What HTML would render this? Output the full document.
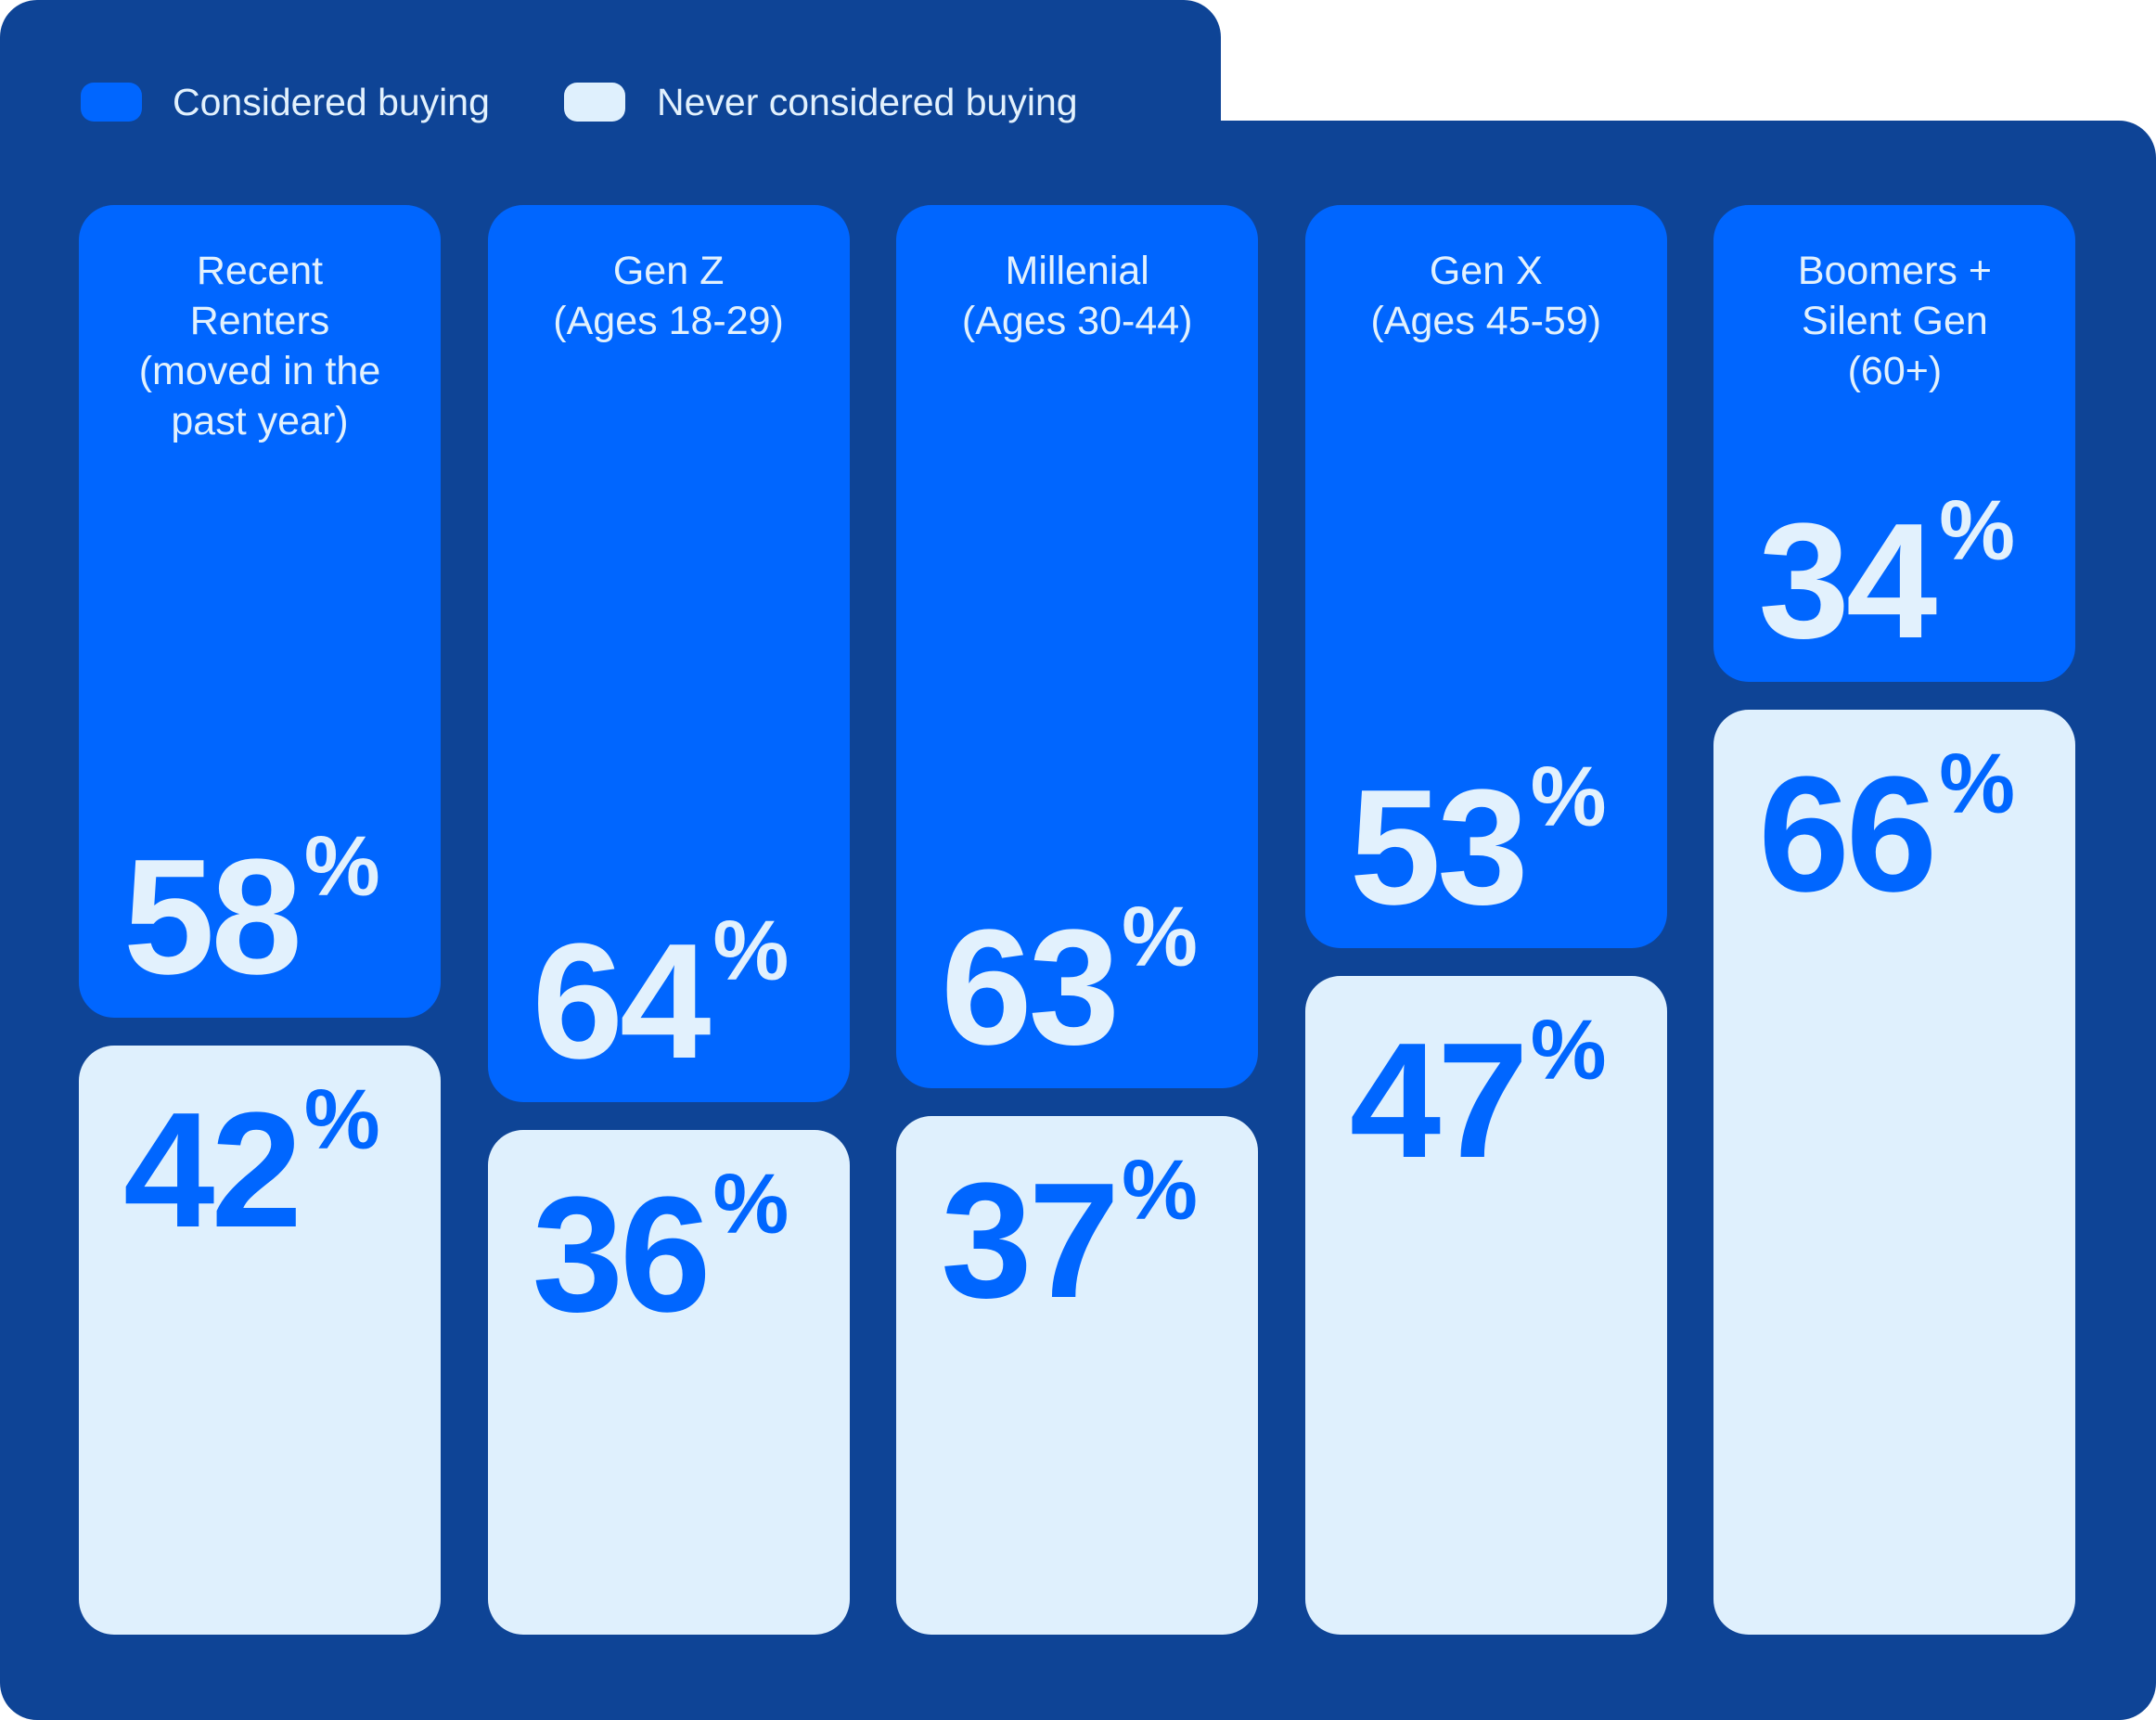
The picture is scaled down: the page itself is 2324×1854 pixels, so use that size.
<!DOCTYPE html>
<html><head><meta charset="utf-8">
<style>
html,body{margin:0;padding:0;background:#fff;}
#root{position:relative;width:2324px;height:1854px;overflow:hidden;font-family:"Liberation Sans",sans-serif;}
.bg{position:absolute;background:#0e4496;}
.bar{position:absolute;border-radius:38px;}
.blue{background:#0066ff;}
.light{background:#dff0fd;}
.lbl{position:absolute;color:#e2f1fd;font-size:43px;line-height:54px;text-align:center;}
.num{position:absolute;font-weight:bold;font-size:177px;line-height:1;white-space:nowrap;letter-spacing:-4px;}
.num span{font-size:92px;vertical-align:top;position:relative;top:-12px;letter-spacing:0;margin-left:6px;}
.leg{position:absolute;color:#e2f1fd;font-size:41px;line-height:41px;white-space:nowrap;}
.sw{position:absolute;border-radius:14px;width:66px;height:42px;}
</style></head>
<body>
<div id="root">
  <div class="bg" style="left:0;top:0;width:1316px;height:300px;border-radius:40px 40px 0 0;"></div>
  <div class="bg" style="left:0;top:130px;width:2324px;height:1724px;border-radius:0 40px 40px 40px;"></div>
  <div style="position:absolute;left:1316px;top:0;width:1008px;height:130px;background:#fff;border-bottom-left-radius:40px;"></div>

  <div class="sw blue" style="left:87px;top:89px;"></div>
  <div class="leg" style="left:186px;top:90px;">Considered buying</div>
  <div class="sw light" style="left:608px;top:89px;"></div>
  <div class="leg" style="left:708px;top:90px;">Never considered buying</div>
</div>
<script>
const categories = ["Recent<br>Renters<br>(moved in the<br>past year)", "Gen Z<br>(Ages 18-29)", "Millenial<br>(Ages 30-44)", "Gen X<br>(Ages 45-59)", "Boomers +<br>Silent Gen<br>(60+)"];
const considered = [58, 64, 63, 53, 34];
const never = [42, 36, 37, 47, 66];
const catNames = ["recent-renters", "gen-z", "millenial", "gen-x", "boomers"];

const root = document.getElementById('root');
const X0 = 85, STEP = 440.6, W = 390;
const TOP = 221, BOTTOM = 1762, GAP = 30;
const usable = BOTTOM - TOP - GAP;
function y(v){ return v / 100 * usable; }

categories.forEach((c, i) => {
  const x = X0 + i * STEP;
  const hb = y(considered[i]);
  const hl = y(never[i]);
  const b = document.createElement('div');
  b.className = 'bar blue';
  b.style.cssText = `left:${x}px;top:${TOP}px;width:${W}px;height:${hb}px;`;
  
  
  root.appendChild(b);
  const l = document.createElement('div');
  l.className = 'bar light';
  l.style.cssText = `left:${x}px;top:${TOP + hb + GAP}px;width:${W}px;height:${hl}px;`;
  
  
  root.appendChild(l);
  const t = document.createElement('div');
  t.className = 'lbl';
  t.style.cssText = `left:${x}px;top:${TOP + 44}px;width:${W}px;`;
  t.innerHTML = c;
  
  
  root.appendChild(t);
  const n1 = document.createElement('div');
  n1.className = 'num';
  n1.style.cssText = `left:${x + 48}px;top:${TOP + hb - 51 - 127 - 19}px;color:#e2f1fd;`;
  n1.innerHTML = considered[i] + '<span>%</span>';
  
  
  root.appendChild(n1);
  const n2 = document.createElement('div');
  n2.className = 'num';
  n2.style.cssText = `left:${x + 48}px;top:${TOP + hb + GAP + 65 - 19}px;color:#0066ff;`;
  n2.innerHTML = never[i] + '<span>%</span>';
  
  
  root.appendChild(n2);
});
</script>
</body></html>
